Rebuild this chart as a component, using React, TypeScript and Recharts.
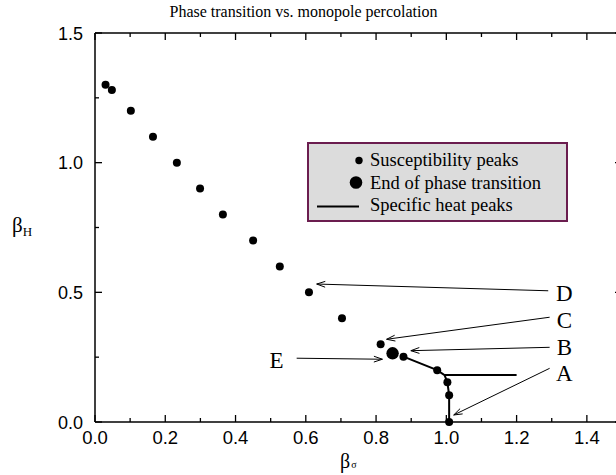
import {
  Legend,
  ReferenceDot,
  ReferenceLine,
  Scatter,
  ScatterChart,
  XAxis,
  YAxis,
} from "recharts";

// β_H vs β_σ: susceptibility peaks, end of the phase transition, and the
// specific heat peak line, with lettered arrows pointing at a few points.

const SUSCEPTIBILITY_PEAKS = [
  { x: 0.03, y: 1.3 },
  { x: 0.048, y: 1.28 },
  { x: 0.102, y: 1.2 },
  { x: 0.165, y: 1.1 },
  { x: 0.233, y: 1.0 },
  { x: 0.299, y: 0.9 },
  { x: 0.364, y: 0.8 },
  { x: 0.45, y: 0.7 },
  { x: 0.526, y: 0.6 },
  { x: 0.609, y: 0.5 },
  { x: 0.703, y: 0.4 },
  { x: 0.813, y: 0.3 },
  { x: 0.878, y: 0.252 },
  { x: 0.974, y: 0.2 },
  { x: 1.003, y: 0.153 },
  { x: 1.008, y: 0.103 },
  { x: 1.008, y: 0.0 },
];

const PHASE_END = [{ x: 0.847, y: 0.265 }];

const HEAT_PEAKS = [
  { x: 0.878, y: 0.252 },
  { x: 0.974, y: 0.2 },
  { x: 0.995, y: 0.181 },
  { x: 1.003, y: 0.153 },
  { x: 1.008, y: 0.103 },
  { x: 1.008, y: 0.0 },
];

const HEAT_BRANCH = [
  { x: 0.995, y: 0.181 },
  { x: 1.2, y: 0.181 },
];

const X_TICKS = [0, 0.1, 0.2, 0.3, 0.4, 0.5, 0.6, 0.7, 0.8, 0.9, 1.0, 1.1, 1.2, 1.3, 1.4, 1.5];
const Y_TICKS = [0, 0.25, 0.5, 0.75, 1.0, 1.25, 1.5];

// letter position, arrow tail and arrow tip, all in data units
const ARROWS = [
  { label: "D", at: { x: 1.336, y: 0.499 }, from: { x: 1.29, y: 0.506 }, to: { x: 0.631, y: 0.532 } },
  { label: "C", at: { x: 1.336, y: 0.394 }, from: { x: 1.294, y: 0.404 }, to: { x: 0.83, y: 0.319 } },
  { label: "B", at: { x: 1.336, y: 0.29 }, from: { x: 1.294, y: 0.288 }, to: { x: 0.899, y: 0.275 } },
  { label: "A", at: { x: 1.336, y: 0.19 }, from: { x: 1.294, y: 0.207 }, to: { x: 1.021, y: 0.027 } },
  { label: "E", at: { x: 0.517, y: 0.239 }, from: { x: 0.574, y: 0.246 }, to: { x: 0.818, y: 0.242 } },
];

const LEGEND_ITEMS = ["Susceptibility peaks", "End of phase transition", "Specific heat peaks"];

const TICK_FONT = "Liberation Sans, Arial, sans-serif";
const SERIF = "Liberation Serif, Times New Roman, serif";

function BottomTick({ x, y, payload }: any) {
  const v = payload.value;
  const major = Math.round(v * 10) % 2 === 0;
  return (
    <g>
      <line x1={x} x2={x} y1={y} y2={y - (major ? 7 : 4)} stroke="#000" strokeWidth={1.3} />
      {major && (
        <text x={x} y={y + 21.5} textAnchor="middle" fontFamily={TICK_FONT} fontSize={18.5} fill="#000">
          {v.toFixed(1)}
        </text>
      )}
    </g>
  );
}

function TopTick({ x, y, payload }: any) {
  const major = Math.round(payload.value * 10) % 2 === 0;
  return <line x1={x} x2={x} y1={y} y2={y + (major ? 7 : 4)} stroke="#000" strokeWidth={1.3} />;
}

function LeftTick({ x, y, payload }: any) {
  const v = payload.value;
  const major = Math.round(v * 4) % 2 === 0;
  return (
    <g>
      <line x1={x} x2={x + (major ? 7 : 4)} y1={y} y2={y} stroke="#000" strokeWidth={1.3} />
      {major && (
        <text x={x - 12} y={y + 6.5} textAnchor="end" fontFamily={TICK_FONT} fontSize={18} fill="#000">
          {v.toFixed(1)}
        </text>
      )}
    </g>
  );
}

function RightTick({ x, y, payload }: any) {
  const major = Math.round(payload.value * 4) % 2 === 0;
  return <line x1={x} x2={x - (major ? 7 : 4)} y1={y} y2={y} stroke="#000" strokeWidth={1.3} />;
}

function Arrow(props: any) {
  const { x1, y1, x2, y2 } = props;
  const ang = Math.atan2(y1 - y2, x1 - x2);
  const len = 9;
  const spread = 0.33;
  const a = { x: x2 + len * Math.cos(ang + spread), y: y2 + len * Math.sin(ang + spread) };
  const b = { x: x2 + len * Math.cos(ang - spread), y: y2 + len * Math.sin(ang - spread) };
  return (
    <g stroke="#000" strokeWidth={1} fill="none">
      <line x1={x1} y1={y1} x2={x2} y2={y2} />
      <polyline points={`${a.x},${a.y} ${x2},${y2} ${b.x},${b.y}`} />
    </g>
  );
}

function LegendBox() {
  return (
    <svg width={261} height={80} style={{ display: "block" }}>
      <rect x={1} y={1} width={259} height={78} fill="#dcdcdc" stroke="#6b1d4f" strokeWidth={2} />
      <circle cx={52} cy={18.5} r={3.7} fill="#000" />
      <circle cx={49} cy={40.5} r={6.3} fill="#000" />
      <line x1={10} x2={52} y1={64.5} y2={64.5} stroke="#000" strokeWidth={2} />
      {LEGEND_ITEMS.map((t, i) => (
        <text key={t} x={63} y={24 + i * 22.5} fontFamily={SERIF} fontSize={18.5} fill="#000">
          {t}
        </text>
      ))}
    </svg>
  );
}

const dot = (r: number) => (p: any) => <circle cx={p.cx} cy={p.cy} r={r} fill="#000" />;

export default function App() {
  return (
    <div
      style={{
        position: "fixed",
        left: 0,
        top: 0,
        width: 616,
        height: 475,
        overflow: "hidden",
        background: "#fff",
      }}
    >
      <svg
        width={616}
        height={30}
        style={{ position: "absolute", left: 0, top: 0, pointerEvents: "none" }}
      >
        <text x={303.5} y={17} textAnchor="middle" fontFamily={SERIF} fontSize={16} fill="#000">
          Phase transition vs. monopole percolation
        </text>
      </svg>
      <ScatterChart width={640} height={475} margin={{ top: 32, right: 17, bottom: 0, left: 0 }}>
        <XAxis
          dataKey="x"
          type="number"
          domain={[0, 1.5]}
          ticks={X_TICKS}
          interval={0}
          height={53}
          tickSize={0}
          tickMargin={0}
          tickLine={false}
          axisLine={{ stroke: "#000", strokeWidth: 1.5 }}
          tick={BottomTick}
          label={() => (
            <text x={340} y={468} fontFamily={SERIF} fontSize={20} fill="#000">
              β<tspan fontSize={10} dx={1}>σ</tspan>
            </text>
          )}
        />
        <XAxis
          xAxisId="top"
          dataKey="x"
          orientation="top"
          type="number"
          domain={[0, 1.5]}
          ticks={X_TICKS}
          interval={0}
          height={1}
          tickSize={0}
          tickMargin={0}
          tickLine={false}
          axisLine={{ stroke: "#000", strokeWidth: 1.3 }}
          tick={TopTick}
        />
        <YAxis
          dataKey="y"
          type="number"
          domain={[0, 1.5]}
          ticks={Y_TICKS}
          interval={0}
          width={95}
          tickSize={0}
          tickMargin={0}
          tickLine={false}
          axisLine={{ stroke: "#000", strokeWidth: 1.5 }}
          tick={LeftTick}
          label={() => (
            <text x={12} y={232} fontFamily={SERIF} fontSize={21} fill="#000">
              β<tspan fontSize={13} dx={0} dy={4}>H</tspan>
            </text>
          )}
        />
        <YAxis
          yAxisId="right"
          dataKey="y"
          orientation="right"
          type="number"
          domain={[0, 1.5]}
          ticks={Y_TICKS}
          interval={0}
          width={1}
          tickSize={0}
          tickMargin={0}
          tickLine={false}
          axisLine={{ stroke: "#000", strokeWidth: 1.3 }}
          tick={RightTick}
        />
        <Legend
          layout="horizontal"
          verticalAlign="middle"
          align="center"
          wrapperStyle={{ left: 307, top: 142, width: 261, height: 80 }}
          content={() => <LegendBox />}
        />
        <Scatter
          name="Specific heat peaks"
          data={HEAT_PEAKS}
          line={{ stroke: "#000", strokeWidth: 2 }}
          shape={() => <g />}
          isAnimationActive={false}
        />
        <Scatter
          name="Specific heat branch"
          xAxisId="top"
          yAxisId="right"
          data={HEAT_BRANCH}
          line={{ stroke: "#000", strokeWidth: 2 }}
          shape={() => <g />}
          isAnimationActive={false}
        />
        <Scatter
          name="Susceptibility peaks"
          data={SUSCEPTIBILITY_PEAKS}
          shape={dot(4)}
          isAnimationActive={false}
        />
        <Scatter name="End of phase transition" data={PHASE_END} shape={dot(6.2)} isAnimationActive={false} />
        {ARROWS.map((a) => (
          <ReferenceLine key={`arrow-${a.label}`} segment={[a.from, a.to]} shape={Arrow} ifOverflow="visible" />
        ))}
        {ARROWS.map((a) => (
          <ReferenceDot
            key={`label-${a.label}`}
            x={a.at.x}
            y={a.at.y}
            r={0}
            ifOverflow="visible"
            shape={(p: any) => (
              <text
                x={p.cx}
                y={p.cy + 8}
                textAnchor="middle"
                fontFamily={SERIF}
                fontSize={23}
                fill="#000"
              >
                {a.label}
              </text>
            )}
          />
        ))}
      </ScatterChart>
    </div>
  );
}
